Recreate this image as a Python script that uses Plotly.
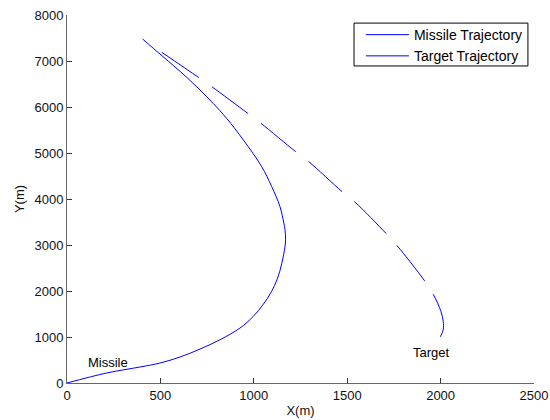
import plotly.graph_objects as go

# Missile trajectory
missile_x = [0, 212, 391, 498, 605, 712, 819, 926, 997, 1051, 1094, 1126, 1150, 1167, 1170,
             1167, 1161, 1140, 1096, 1042, 944, 855, 783, 712, 642, 569, 462, 405]
missile_y = [0, 217, 348, 434, 565, 738, 940, 1195, 1447, 1712, 1983, 2265, 2602, 2967, 3113,
             3330, 3475, 3836, 4270, 4705, 5284, 5751, 6077, 6370, 6642, 6903, 7276, 7478]

# Target trajectory (starts at the bottom)
target_x = [1999, 2014, 2014, 2002, 1962, 1918, 1768, 1710, 1542, 1474, 1294, 1224,
            1038, 967, 775, 703, 503]
target_y = [1006, 1158, 1338, 1555, 1918, 2200, 2982, 3243, 3931, 4155, 4813, 5030,
            5647, 5864, 6442, 6646, 7202]

x_ticks = [0, 500, 1000, 1500, 2000, 2500]
y_ticks = [0, 1000, 2000, 3000, 4000, 5000, 6000, 7000, 8000]

labels = ["Missile", "Target"]
label_x = [100, 1840]
label_y = [450, 670]

font = "Liberation Sans, Arial, sans-serif"

fig = go.Figure()
fig.add_trace(go.Scatter(x=missile_x, y=missile_y, mode="lines", name="Missile Trajectory",
                         line=dict(color="#0000ff", width=1, shape="spline")))
fig.add_trace(go.Scatter(x=target_x, y=target_y, mode="lines", name="Target Trajectory",
                         line=dict(color="#0000ff", width=1, shape="spline", dash="45px,16px")))

for t, xx, yy in zip(labels, label_x, label_y):
    fig.add_annotation(x=xx, y=yy, text=t, showarrow=False, xanchor="left", yanchor="middle",
                       font=dict(family=font, size=13, color="#000"))

axis_common = dict(showgrid=False, zeroline=False, showline=True, linecolor="#666666",
                   linewidth=1, ticks="inside", ticklen=5, tickcolor="#333333",
                   tickfont=dict(family=font, size=13, color="#111"), mirror=False,
                   automargin=False, ticklabeloverflow="allow")

fig.update_xaxes(range=[0, 2500], tickvals=x_ticks, title=dict(text="X(m)", standoff=4,
                 font=dict(family=font, size=13, color="#111")), **axis_common)
fig.update_yaxes(range=[0, 8000], tickvals=y_ticks, title=dict(text="Y(m)", standoff=6,
                 font=dict(family=font, size=13, color="#111")), **axis_common)

# legend frame drawn as a rectangle so its height matches the reference box
fig.add_shape(type="rect", xref="paper", yref="paper", x0=0.6146, x1=0.987, y0=0.8615, y1=0.978,
              line=dict(color="#000", width=1), fillcolor="white", layer="below")

fig.update_layout(
    width=550, height=420,
    margin=dict(l=67, r=16, t=15, b=37),
    plot_bgcolor="white", paper_bgcolor="white",
    showlegend=True,
    legend=dict(x=0.987, y=0.989, xanchor="right", yanchor="top",
                borderwidth=0, bgcolor="rgba(0,0,0,0)",
                font=dict(family=font, size=14, color="#000"),
                tracegroupgap=0, itemwidth=43),
)

fig.write_html("out.html", config={"displayModeBar": False},
               post_script="document.body.style.margin='0';document.body.style.overflow='hidden';")
